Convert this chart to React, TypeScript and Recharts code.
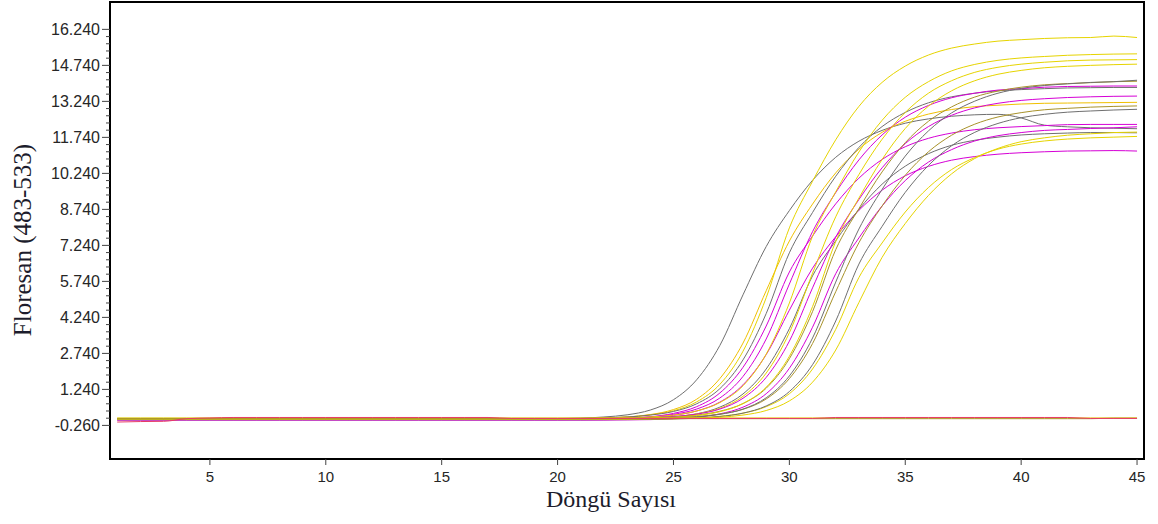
import { LineChart, Line, XAxis, YAxis, ReferenceArea } from "recharts";

// PCR cycle numbers (x)
const cycles = [
  1, 2, 3, 4, 5, 6, 7, 8, 9, 10, 11, 12, 13, 14, 15, 16, 17, 18, 19, 20, 21, 22, 23,
  24, 25, 26, 27, 28, 29, 30, 31, 32, 33, 34, 35, 36, 37, 38, 39, 40, 41, 42, 43, 44, 45,
];

const xTicks = [5, 10, 15, 20, 25, 30, 35, 40, 45];
const yMajorTicks = [-0.26, 1.24, 2.74, 4.24, 5.74, 7.24, 8.74, 10.24, 11.74, 13.24, 14.74, 16.24];

// fluorescence per cycle, one array per well
const curveA = [
  0, 0, 0, 0, 0, 0, 0, 0, 0, 0, 0, 0, 0, 0, 0, 0, 0, 0, 0,
  0.02, 0.04, 0.09, 0.18, 0.38, 0.81, 1.64, 3.07, 5.18, 7.19, 8.69, 9.95, 10.91, 11.58,
  12.03, 12.33, 12.51, 12.62, 12.68, 12.7, 12.55, 12.25, 12.18, 12.14, 12.12, 12.1,
];
const curveB = [
  0.02, 0.02, 0.02, 0.02, 0.02, 0.02, 0.02, 0.02, 0.02, 0.02, 0.02, 0.02, 0.02, 0.02,
  0.02, 0.02, 0.02, 0.02, 0.02, 0.02, 0.02,
  0.05, 0.09, 0.18, 0.35, 0.72, 1.45, 2.83, 5.06, 7.97, 9.91, 11.64, 13.03, 14.03, 14.71,
  15.17, 15.46, 15.63, 15.75, 15.81, 15.86, 15.89, 15.9, 15.96, 15.9,
];
const curveC = [
  0, 0, 0, 0, 0, 0, 0, 0, 0, 0, 0, 0, 0, 0, 0, 0, 0, 0, 0,
  0.01, 0.02, 0.04, 0.09, 0.19, 0.4, 0.83, 1.69, 3.17, 5.35, 7.42, 8.96, 10.26, 11.25,
  11.95, 12.41, 12.71, 12.9, 13.02, 13.08, 13.13, 13.16, 13.17, 13.18, 13.19, 13.2,
];
const curveD = [
  -0.02, -0.02, -0.02, -0.02, -0.02, -0.02, -0.02, -0.02, -0.02, -0.02, -0.02, -0.02,
  -0.02, -0.02, -0.02, -0.02, -0.02, -0.02, -0.02, -0.02,
  -0.01, 0, 0.04, 0.1, 0.24, 0.52, 1.09, 2.16, 3.88, 6.13, 7.63, 8.97, 10.04, 10.82,
  11.35, 11.7, 11.92, 12.06, 12.14, 12.19, 12.23, 12.27, 12.28, 12.28, 12.28,
];
const curveE = [
  0.03, 0.03, 0.03, 0.03, 0.03, 0.03, 0.03, 0.03, 0.03, 0.03, 0.03, 0.03, 0.03, 0.03,
  0.03, 0.03, 0.03, 0.03, 0.03, 0.03,
  0.04, 0.06, 0.09, 0.17, 0.32, 0.64, 1.27, 2.47, 4.4, 6.93, 8.61, 10.12, 11.32, 12.19,
  12.78, 13.18, 13.43, 13.58, 13.68, 13.73, 13.77, 13.8, 13.81, 13.82, 13.82,
];
const curveF = [
  0, 0, 0, 0, 0, 0, 0, 0, 0, 0, 0, 0, 0, 0, 0, 0, 0, 0, 0, 0,
  0.01, 0.02, 0.03, 0.08, 0.16, 0.34, 0.71, 1.43, 2.69, 4.54, 6.29, 7.6, 8.7, 9.54,
  10.14, 10.53, 10.79, 10.94, 11.04, 11.1, 11.14, 11.17, 11.18, 11.19, 11.17,
];
const curveG = [
  0, 0, 0, 0, 0, 0, 0, 0, 0, 0, 0, 0, 0, 0, 0, 0, 0, 0, 0, 0,
  0.01, 0.02, 0.04, 0.09, 0.2, 0.42, 0.88, 1.78, 3.34, 5.63, 7.81, 9.44, 10.8, 11.84,
  12.58, 13.07, 13.39, 13.58, 13.71, 13.77, 13.83, 13.86, 13.87, 13.88, 13.88,
];
const curveH = [
  0.02, 0.02, 0.02, 0.02, 0.02, 0.02, 0.02, 0.02, 0.02, 0.02, 0.02, 0.02, 0.02, 0.02,
  0.02, 0.02, 0.02, 0.02, 0.02, 0.02, 0.02,
  0.04, 0.05, 0.09, 0.17, 0.34, 0.69, 1.39, 2.71, 4.84, 7.62, 9.47, 11.13, 12.45, 13.41,
  14.06, 14.51, 14.78, 14.95, 15.05, 15.11, 15.16, 15.19, 15.21, 15.22,
];
const curveI = [
  -0.03, -0.03, -0.03, -0.03, -0.03, -0.03, -0.03, -0.03, -0.03, -0.03, -0.03, -0.03,
  -0.03, -0.03, -0.03, -0.03, -0.03, -0.03, -0.03, -0.03, -0.03,
  -0.02, -0.01, 0.03, 0.09, 0.22, 0.5, 1.05, 2.09, 3.77, 5.97, 7.43, 8.74, 9.79, 10.54,
  11.06, 11.41, 11.62, 11.75, 11.84, 11.89, 11.92, 11.94, 11.94, 11.93,
];
const curveJ = [
  0, 0, 0, 0, 0, 0, 0, 0, 0, 0, 0, 0, 0, 0, 0, 0, 0, 0, 0, 0, 0,
  0.01, 0.02, 0.05, 0.1, 0.22, 0.45, 0.95, 1.92, 3.6, 6.08, 8.43, 10.19, 11.66, 12.78,
  13.58, 14.1, 14.45, 14.66, 14.79, 14.87, 14.93, 14.96, 14.97, 14.98,
];
const curveK = [
  0.02, 0.02, 0.02, 0.02, 0.02, 0.02, 0.02, 0.02, 0.02, 0.02, 0.02, 0.02, 0.02, 0.02,
  0.02, 0.02, 0.02, 0.02, 0.02, 0.02, 0.02,
  0.03, 0.04, 0.06, 0.11, 0.21, 0.42, 0.87, 1.74, 3.25, 5.47, 7.58, 9.15, 10.47, 11.48,
  12.19, 12.66, 12.97, 13.16, 13.28, 13.35, 13.4, 13.43, 13.45, 13.46,
];
const curveL = [
  0.03, 0.03, 0.03, 0.03, 0.03, 0.03, 0.03, 0.03, 0.03, 0.03, 0.03, 0.03, 0.03, 0.03,
  0.03, 0.03, 0.03, 0.03, 0.03, 0.03, 0.03, 0.03,
  0.04, 0.06, 0.09, 0.17, 0.33, 0.65, 1.29, 2.52, 4.48, 7.06, 8.77, 10.3, 11.52, 12.41,
  13.01, 13.42, 13.67, 13.83, 13.93, 13.98, 14.02, 14.06, 14.08,
];
const curveM = [
  -0.04, -0.04, -0.04, -0.04, -0.04, -0.04, -0.04, -0.04, -0.04, -0.04, -0.04, -0.04,
  -0.04, -0.04, -0.04, -0.04, -0.04, -0.04, -0.04, -0.04, -0.04, -0.04,
  -0.03, -0.02, 0.02, 0.08, 0.22, 0.5, 1.06, 2.12, 3.83, 6.06, 7.55, 8.88, 9.94, 10.71,
  11.23, 11.59, 11.81, 11.94, 12.03, 12.07, 12.11, 12.14, 12.18,
];
const curveN = [
  0, 0, 0, 0, 0, 0, 0, 0, 0, 0, 0, 0, 0, 0, 0, 0, 0, 0, 0, 0, 0, 0,
  0.01, 0.03, 0.07, 0.15, 0.31, 0.65, 1.33, 2.62, 4.69, 7.4, 9.21, 10.82, 12.11, 13.04,
  13.68, 14.1, 14.37, 14.53, 14.64, 14.7, 14.74, 14.77, 14.79,
];
const curveO = [
  0.02, 0.02, 0.02, 0.02, 0.02, 0.02, 0.02, 0.02, 0.02, 0.02, 0.02, 0.02, 0.02, 0.02,
  0.02, 0.02, 0.02, 0.02, 0.02, 0.02, 0.02, 0.02,
  0.03, 0.04, 0.06, 0.11, 0.21, 0.41, 0.84, 1.69, 3.15, 5.31, 7.35, 8.88, 10.16, 11.14,
  11.83, 12.29, 12.59, 12.77, 12.89, 12.95, 13.0, 13.03, 13.05,
];
const curveP = [
  0, 0, 0, 0, 0, 0, 0, 0, 0, 0, 0, 0, 0, 0, 0, 0, 0, 0, 0, 0, 0, 0,
  0.01, 0.02, 0.04, 0.09, 0.2, 0.42, 0.89, 1.8, 3.38, 5.71, 7.92, 9.57, 10.96, 12.01,
  12.76, 13.25, 13.58, 13.78, 13.9, 13.97, 14.03, 14.06, 14.12,
];
const curveQ = [
  0, 0, 0, 0, 0, 0, 0, 0, 0, 0, 0, 0, 0, 0, 0, 0, 0, 0, 0, 0, 0, 0, 0,
  0.01, 0.02, 0.05, 0.12, 0.25, 0.52, 1.06, 2.09, 3.74, 5.9, 7.34, 8.63, 9.65, 10.4,
  10.9, 11.25, 11.46, 11.59, 11.67, 11.72, 11.75, 11.78,
];
const curveR = [
  -0.02, -0.02, -0.02, -0.02, -0.02, -0.02, -0.02, -0.02, -0.02, -0.02, -0.02, -0.02,
  -0.02, -0.02, -0.02, -0.02, -0.02, -0.02, -0.02, -0.02, -0.02, -0.02, -0.02,
  -0.01, 0.01, 0.04, 0.11, 0.25, 0.55, 1.15, 2.27, 4.09, 6.46, 8.03, 9.45, 10.57, 11.39,
  11.95, 12.32, 12.56, 12.7, 12.79, 12.84, 12.88, 12.91,
];
const curveS = [
  0, 0, 0, 0, 0, 0, 0, 0, 0, 0, 0, 0, 0, 0, 0, 0, 0, 0, 0, 0, 0, 0, 0,
  0.01, 0.02, 0.04, 0.08, 0.17, 0.36, 0.76, 1.54, 2.88, 4.86, 6.74, 8.15, 9.32, 10.22,
  10.86, 11.28, 11.56, 11.72, 11.83, 11.89, 11.94, 11.96,
];
// negative controls, stay flat
const flatYellow = [
  0.05, 0.05, 0.05, 0.05, 0.05, 0.05, 0.05, 0.05, 0.05, 0.05, 0.05, 0.05, 0.05, 0.05, 0.05,
  0.05, 0.05, 0.05, 0.05, 0.05, 0.05, 0.05, 0.05, 0.05, 0.05, 0.05, 0.05, 0.05, 0.05, 0.05,
  0.05, 0.05, 0.05, 0.05, 0.05, 0.05, 0.05, 0.05, 0.05, 0.05, 0.05, 0.05, 0.05, 0.05, 0.05,
];
const flatOlive = [
  0.02, 0.02, 0.02, 0.02, 0.02, 0.02, 0.02, 0.02, 0.02, 0.02, 0.02, 0.02, 0.02, 0.02, 0.02,
  0.02, 0.02, 0.02, 0.02, 0.02, 0.02, 0.02, 0.02, 0.02, 0.02, 0.02, 0.02, 0.02, 0.02, 0.02,
  0.02, 0.02, 0.02, 0.02, 0.02, 0.02, 0.02, 0.02, 0.02, 0.02, 0.02, 0.02, 0.02, 0.04, 0.04,
];
const flatRed = [
  -0.12, -0.1, -0.09, 0.02, 0.05, 0.07, 0.07, 0.07, 0.07, 0.07, 0.07, 0.07, 0.07, 0.07,
  0.07, 0.07, 0.07, 0.03, 0.03, 0.03, 0.03, 0.03, 0.03, 0.03, 0.03, 0.03, 0.03, 0.03,
  0.03, 0.03, 0.03, 0.07, 0.07, 0.07, 0.07, 0.07, 0.07, 0.07, 0.07, 0.07, 0.07, 0.07,
  0.03, 0.03, 0.03,
];

const GRAY = "#6f6f6f";
const YELLOW = "#e6d400";
const AMBER = "#f0c000";
const MAGENTA = "#d600d6";
const OLIVE = "#a8922a";
const RED = "#e83a66";

const curves = [
  { key: "a", color: GRAY, values: curveA },
  { key: "b", color: YELLOW, values: curveB },
  { key: "c", color: AMBER, values: curveC },
  { key: "d", color: MAGENTA, values: curveD },
  { key: "e", color: GRAY, values: curveE },
  { key: "f", color: MAGENTA, values: curveF },
  { key: "g", color: MAGENTA, values: curveG },
  { key: "h", color: YELLOW, values: curveH },
  { key: "i", color: GRAY, values: curveI },
  { key: "j", color: YELLOW, values: curveJ },
  { key: "k", color: MAGENTA, values: curveK },
  { key: "l", color: OLIVE, values: curveL },
  { key: "m", color: MAGENTA, values: curveM },
  { key: "n", color: YELLOW, values: curveN },
  { key: "o", color: OLIVE, values: curveO },
  { key: "p", color: GRAY, values: curveP },
  { key: "q", color: YELLOW, values: curveQ },
  { key: "r", color: GRAY, values: curveR },
  { key: "s", color: YELLOW, values: curveS },
  { key: "u", color: YELLOW, values: flatYellow },
  { key: "v", color: OLIVE, values: flatOlive },
  { key: "t", color: RED, values: flatRed },
];

const rows = cycles.map((cycle, i) => {
  const row: Record<string, number> = { cycle };
  curves.forEach((c) => {
    row[c.key] = c.values[i];
  });
  return row;
});

const X_DOMAIN: [number, number] = [0.69, 45.3];
const Y_DOMAIN: [number, number] = [-1.66, 17.38];

// 4 minor ticks between each pair of labelled ticks
const yMinorTicks = yMajorTicks
  .slice(0, -1)
  .flatMap((t) => [1, 2, 3, 4].map((k) => Math.round((t + 0.3 * k) * 100) / 100));
const yAllTicks = [...yMajorTicks, ...yMinorTicks].sort((a, b) => a - b);

const TICK_FONT = "'Liberation Sans', Arial, sans-serif";
const TITLE_FONT = "'Liberation Serif', 'Times New Roman', serif";

function YTick({ x, y, payload }: any) {
  const major = yMajorTicks.some((t) => Math.abs(t - payload.value) < 1e-6);
  return (
    <g>
      <line x1={x - (major ? 8 : 4)} x2={x} y1={y} y2={y} stroke="#444" strokeWidth={1} />
      {major && (
        <text
          x={x - 10}
          y={y}
          textAnchor="end"
          dominantBaseline="central"
          fontSize={16}
          fontFamily={TICK_FONT}
          fill="#262626"
        >
          {payload.value.toFixed(3)}
        </text>
      )}
    </g>
  );
}

function XTick({ x, y, payload }: any) {
  return (
    <g>
      <line x1={x} x2={x} y1={y} y2={y + 6} stroke="#444" strokeWidth={1} />
      <text
        x={x}
        y={y + 17}
        textAnchor="middle"
        dominantBaseline="central"
        fontSize={15}
        fontFamily={TICK_FONT}
        fill="#262626"
      >
        {payload.value}
      </text>
    </g>
  );
}

export default function App() {
  return (
    <div style={{ position: "relative", width: 1158, height: 524, background: "#fff" }}>
      <style>{`body{margin:0}`}</style>
      <LineChart
        width={1158}
        height={524}
        data={rows}
        margin={{ top: 2, right: 14, bottom: 0, left: 0 }}
      >
        <XAxis
          dataKey="cycle"
          type="number"
          domain={X_DOMAIN}
          ticks={xTicks}
          allowDataOverflow
          height={65}
          axisLine={false}
          tickLine={false}
          tickSize={0}
          tickMargin={0}
          tick={<XTick />}
          interval={0}
        />
        <YAxis
          type="number"
          domain={Y_DOMAIN}
          ticks={yAllTicks}
          allowDataOverflow
          width={110}
          axisLine={false}
          tickLine={false}
          tickSize={0}
          tickMargin={0}
          tick={<YTick />}
          interval={0}
        />
        {curves.map((c) => (
          <Line
            key={c.key}
            dataKey={c.key}
            type="monotone"
            stroke={c.color}
            strokeWidth={1}
            dot={false}
            activeDot={false}
            isAnimationActive={false}
          />
        ))}
        <ReferenceArea
          x1={X_DOMAIN[0]}
          x2={X_DOMAIN[1]}
          y1={Y_DOMAIN[0]}
          y2={Y_DOMAIN[1]}
          fill="none"
          stroke="#000"
          strokeWidth={2}
        />
      </LineChart>
      <svg
        width={1158}
        height={524}
        style={{ position: "absolute", left: 0, top: 0, pointerEvents: "none" }}
      >
        <text
          x={611}
          y={507}
          textAnchor="middle"
          fontSize={24}
          fontFamily={TITLE_FONT}
          fill="#1c1c2c"
        >
          Döngü Sayısı
        </text>
        <text
          x={22}
          y={240}
          textAnchor="middle"
          dominantBaseline="central"
          transform="rotate(-90 22 240)"
          fontSize={25}
          fontFamily={TITLE_FONT}
          fill="#1c1c2c"
        >
          Floresan (483-533)
        </text>
      </svg>
    </div>
  );
}
